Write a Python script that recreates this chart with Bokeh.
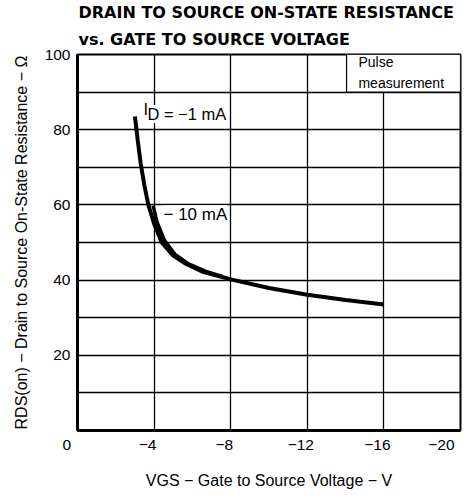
from bokeh.plotting import figure
from bokeh.models import Range1d, FixedTicker, Label, Title
from bokeh.embed import file_html
from bokeh.resources import INLINE

# ---- data ----
vgs_1mA = [-3.0, -3.15, -3.3, -3.5, -3.7, -4.0, -4.4, -5.0, -5.6, -6.5, -8.0, -10.0, -12.0, -14.0, -16.0]
rds_1mA = [83.5, 77.0, 71.0, 65.0, 60.0, 55.0, 50.0, 46.5, 44.5, 42.3, 40.2, 37.9, 36.1, 34.7, 33.5]
vgs_10mA = [-3.95, -4.15, -4.55, -5.1, -5.8, -6.7, -7.6]
rds_10mA = [59.8, 55.5, 50.5, 46.8, 44.3, 42.3, 40.9]

x_ticks = [0, -4, -8, -12, -16, -20]
x_tick_labels = ["0", "\u22124", "\u22128", "\u221212", "\u221216", "\u221220"]
y_ticks = [20, 40, 60, 80, 100]
y_tick_labels = ["20", "40", "60", "80", "100"]
x_grid = [-4, -8, -12, -16]
y_grid = [10, 20, 30, 40, 50, 60, 70, 80, 90]

title1 = "DRAIN TO SOURCE ON-STATE RESISTANCE"
title2 = "vs. GATE TO SOURCE VOLTAGE"
x_title = "VGS \u2212 Gate to Source Voltage \u2212 V"
y_title = "RDS(on) \u2212 Drain to Source On-State Resistance \u2212 \u03a9"
note = ["Pulse", "measurement"]
curve_labels = ["I", "D = \u22121 mA", "\u2212 10 mA"]
FONT = "Liberation Sans"
NBSP = "\u00a0"

p = figure(width=467, height=491, output_backend="svg", toolbar_location=None,
           x_range=Range1d(0, -20), y_range=Range1d(0, 100),
           min_border_left=77, min_border_right=7, min_border_top=52, min_border_bottom=59)
p.background_fill_color = "white"
p.border_fill_color = "white"
p.outline_line_color = "black"
p.outline_line_width = 2

# titles (plot title is outermost, added Title sits next to the frame)
p.title.text = title1
p.title.align = "left"
p.title.offset = 1
p.title.standoff = 0
p.title.text_font = "DejaVu Sans"
p.title.text_font_style = "bold"
p.title.text_font_size = "16px"
p.title.text_color = "black"
p.add_layout(Title(text=title2, align="left", offset=1, standoff=12, text_font="DejaVu Sans",
                   text_font_style="bold", text_font_size="16px", text_color="black"), "above")

for ax, ticks, labels in ((p.xaxis[0], x_ticks, x_tick_labels), (p.yaxis[0], y_ticks, y_tick_labels)):
    ax.ticker = FixedTicker(ticks=ticks)
    ax.major_tick_in = 0
    ax.major_tick_out = 0
    ax.minor_tick_in = 0
    ax.minor_tick_out = 0
    ax.axis_line_width = 3
    ax.axis_line_color = "black"
    ax.major_label_text_font = FONT
    ax.major_label_text_font_size = "15.5px"
    ax.major_label_text_color = "black"
    ax.axis_label_text_font = FONT
    ax.axis_label_text_font_style = "normal"
    ax.axis_label_text_color = "black"
    ax.axis_label_text_font_size = "16px"
# x tick labels sit a little left of their grid line in the reference
p.xaxis[0].major_label_overrides = {t: l + NBSP * (5 if t == 0 else 3)
                                    for t, l in zip(x_ticks, x_tick_labels)}
p.yaxis[0].major_label_overrides = {t: l for t, l in zip(y_ticks, y_tick_labels)}
p.xaxis[0].major_label_standoff = 5
p.yaxis[0].major_label_standoff = 7
p.xaxis[0].axis_label = x_title
p.xaxis[0].axis_label_standoff = 16
p.yaxis[0].axis_label = y_title
p.yaxis[0].axis_label_standoff = 12

p.xgrid[0].ticker = FixedTicker(ticks=x_grid)
p.ygrid[0].ticker = FixedTicker(ticks=y_grid)
for g in (p.xgrid[0], p.ygrid[0]):
    g.grid_line_color = "black"
    g.grid_line_width = 1.3
    g.grid_line_alpha = 1.0

# note box
p.quad(left=[-14.05], right=[-20], bottom=[90], top=[100], fill_color="white",
       line_color="black", line_width=1.2)

p.line(vgs_10mA, rds_10mA, line_color="black", line_width=3.5)
p.line(vgs_1mA, rds_1mA, line_color="black", line_width=4)

def lab(x, y, text, size, **kw):
    opts = dict(text_font=FONT, text_font_size=size, text_color="black",
                text_baseline="alphabetic", text_align="left")
    opts.update(kw)
    p.add_layout(Label(x=x, y=y, text=text, **opts))

# note text
lab(-14.67, 97.9, note[0], "14px")
lab(-14.67, 92.5, note[1], "14px")

# curve labels
lab(-3.45, 85.4, curve_labels[0], "16.5px", background_fill_color="white")
lab(-3.65, 84.2, curve_labels[1], "16.5px", background_fill_color="white")
lab(-4.49, 57.4, curve_labels[2], "17px", background_fill_color="white")

open("out.html", "w").write(file_html(p, INLINE))
